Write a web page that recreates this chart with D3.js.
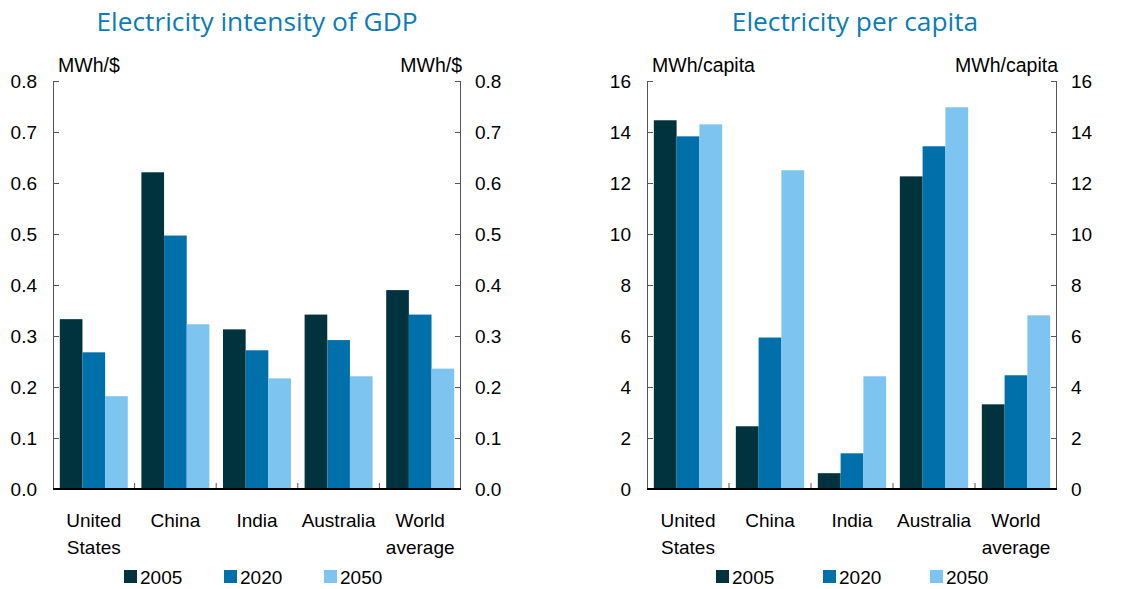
<!DOCTYPE html>
<html>
<head>
<meta charset="utf-8">
<script src="https://cdn.jsdelivr.net/npm/d3@7"></script>
<style>
  body { margin: 0; background: #fff; }
  svg { display: block; }
  .tick text { font-family: "Liberation Sans", Arial, sans-serif; font-size: 19px; fill: #000; }
</style>
</head>
<body>
<svg width="1148" height="589"></svg>
<script>
// data
var categories = [["United", "States"], ["China"], ["India"], ["Australia"], ["World", "average"]];
var years = ["2005", "2020", "2050"];
var colors = ["#00333d", "#0070aa", "#7dc5f0"];

var intensity2005 = [0.333, 0.621, 0.313, 0.342, 0.390];
var intensity2020 = [0.268, 0.497, 0.272, 0.292, 0.342];
var intensity2050 = [0.182, 0.323, 0.217, 0.221, 0.236];
var intensityTicks = [0, 0.1, 0.2, 0.3, 0.4, 0.5, 0.6, 0.7, 0.8];

var perCapita2005 = [14.46, 2.46, 0.62, 12.26, 3.32];
var perCapita2020 = [13.83, 5.94, 1.40, 13.44, 4.46];
var perCapita2050 = [14.30, 12.50, 4.42, 14.97, 6.81];
var perCapitaTicks = [0, 2, 4, 6, 8, 10, 12, 14, 16];

var svg = d3.select("svg");
var font = '"Liberation Sans", Arial, sans-serif';

function panel(opts) {
    var top = 81, bottom = 489;
    var x = d3.scaleBand()
        .domain(d3.range(categories.length))
        .range([opts.left, opts.right])
        .paddingInner(0)
        .paddingOuter(0);
    var x1 = d3.scaleBand()
        .domain(years)
        .range([0, x.bandwidth()])
        .paddingInner(0)
        .paddingOuter(0.3);
    var y = d3.scaleLinear()
        .domain([0, opts.max])
        .range([bottom, top]);

    var g = svg.append("g");

    // title
    g.append("text")
        .attr("x", (opts.left + opts.right) / 2 + opts.titleShift)
        .attr("y", 31)
        .attr("text-anchor", "middle")
        .style("font-family", '"Open Sans", "Noto Sans", sans-serif')
        .style("font-size", "26.3px")
        .style("fill", "#0b7cb6")
        .text(opts.title);

    // units
    g.append("text")
        .attr("x", opts.left + 5)
        .attr("y", 72)
        .style("font-family", font).style("font-size", "19.5px")
        .text(opts.unit);
    g.append("text")
        .attr("x", opts.right + 1)
        .attr("y", 72)
        .attr("text-anchor", "end")
        .style("font-family", font).style("font-size", "19.5px")
        .text(opts.unit);

    // bars
    var series = [opts.v2005, opts.v2020, opts.v2050];
    series.forEach(function (vals, si) {
        g.append("g").selectAll("rect")
            .data(vals)
            .join("rect")
            .attr("x", (d, i) => x(i) + x1(years[si]))
            .attr("y", d => y(d))
            .attr("width", x1.bandwidth())
            .attr("height", d => bottom - y(d))
            .attr("fill", colors[si]);
    });

    // left axis
    var yl = g.append("g")
        .attr("transform", "translate(" + opts.left + ",0)")
        .call(d3.axisRight(y).tickValues(opts.ticks).tickFormat(opts.fmt).tickSize(6));
    yl.select(".domain").attr("stroke", "#555").attr("d", "M0.5," + top + "V" + bottom);
    yl.selectAll(".tick line").attr("stroke", "#555");
    yl.selectAll(".tick text").attr("x", -opts.labelGap).attr("text-anchor", "end").attr("dy", "0.35em");

    // right axis
    var yr = g.append("g")
        .attr("transform", "translate(" + opts.right + ",0)")
        .call(d3.axisLeft(y).tickValues(opts.ticks).tickFormat(opts.fmt).tickSize(6));
    yr.select(".domain").attr("stroke", "#555").attr("d", "M-0.5," + top + "V" + bottom);
    yr.selectAll(".tick line").attr("stroke", "#555");
    yr.selectAll(".tick text").attr("x", 14).attr("text-anchor", "start").attr("dy", "0.35em");

    // category axis: short ticks pointing up at band boundaries
    var bx = g.append("g").attr("transform", "translate(0," + bottom + ")");
    bx.selectAll("line.sep")
        .data(d3.range(1, categories.length))
        .join("line")
        .attr("x1", d => x(d)).attr("x2", d => x(d))
        .attr("y1", 0).attr("y2", -6)
        .attr("stroke", "#555");
    bx.append("line")
        .attr("x1", opts.left).attr("x2", opts.right)
        .attr("stroke", "#000").attr("stroke-width", 2);

    // category labels
    var lab = g.append("g").selectAll("text")
        .data(categories)
        .join("text")
        .attr("x", (d, i) => x(i) + x.bandwidth() / 2)
        .attr("y", 527)
        .attr("text-anchor", "middle")
        .style("font-family", font).style("font-size", "19px");
    lab.selectAll("tspan")
        .data(d => d)
        .join("tspan")
        .attr("x", function () { return this.parentNode.getAttribute("x"); })
        .attr("dy", (d, i) => i === 0 ? 0 : 27)
        .text(d => d);

    // legend
    var leg = g.append("g").selectAll("g")
        .data(years)
        .join("g")
        .attr("transform", (d, i) => "translate(" + (opts.legendX + i * opts.legendStep) + ",570)");
    leg.append("rect").attr("width", 13).attr("height", 13).attr("fill", (d, i) => colors[i]);
    leg.append("text")
        .attr("x", 16).attr("y", 13.5)
        .style("font-family", font).style("font-size", "19px")
        .text(d => d);
}

panel({
    left: 53, right: 461, max: 0.8,
    title: "Electricity intensity of GDP", titleShift: 0,
    unit: "MWh/$", ticks: intensityTicks, fmt: d3.format(".1f"), labelGap: 16,
    v2005: intensity2005, v2020: intensity2020, v2050: intensity2050,
    legendX: 124, legendStep: 100
});

panel({
    left: 647, right: 1057, max: 16,
    title: "Electricity per capita", titleShift: 3,
    unit: "MWh/capita", ticks: perCapitaTicks, fmt: d3.format("d"), labelGap: 16,
    v2005: perCapita2005, v2020: perCapita2020, v2050: perCapita2050,
    legendX: 716, legendStep: 107
});
</script>
</body>
</html>
